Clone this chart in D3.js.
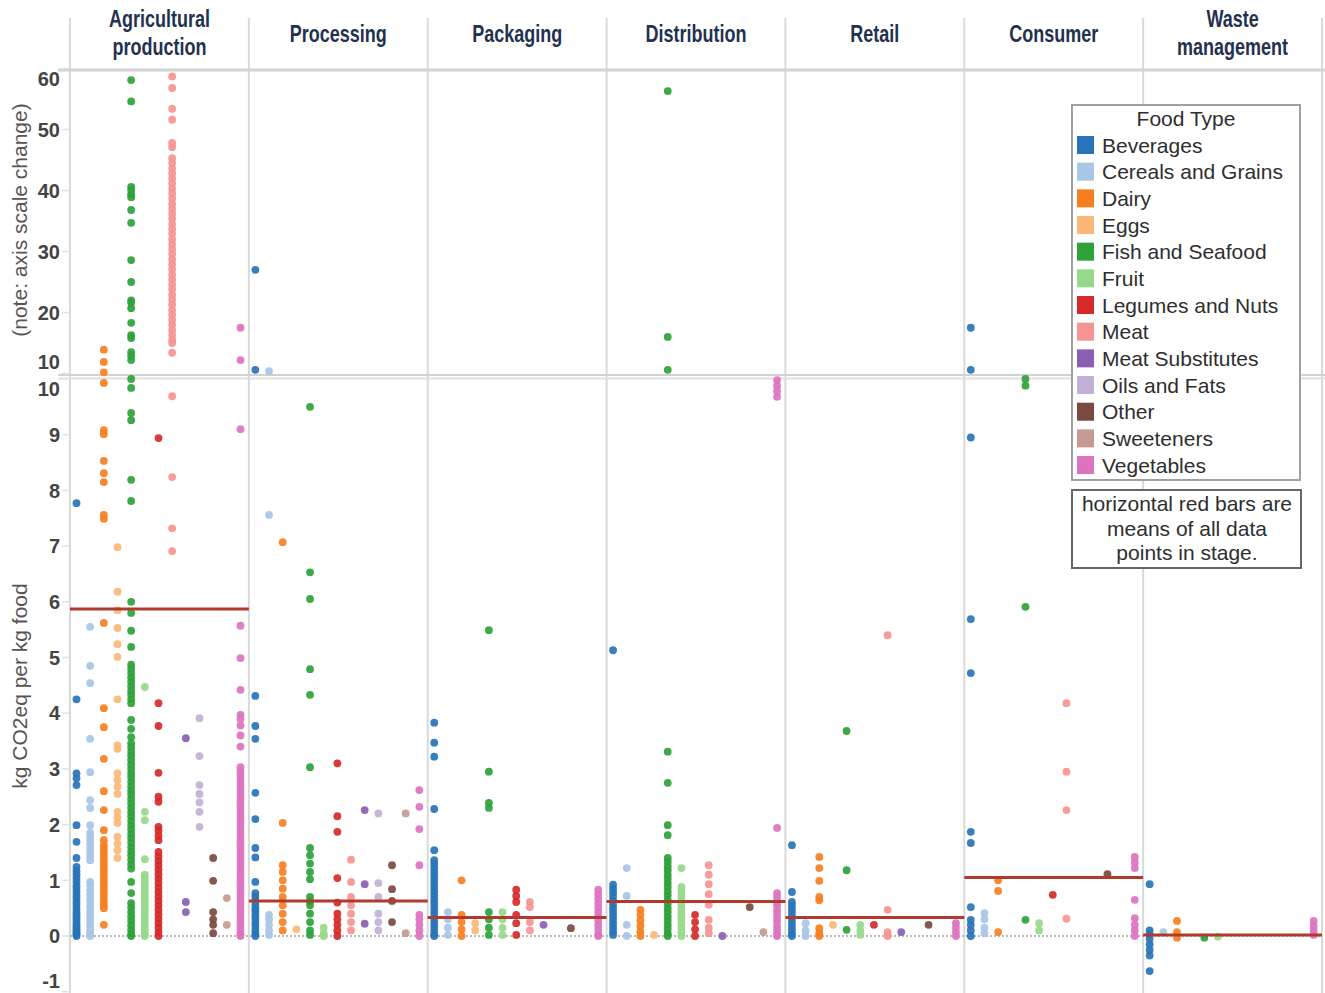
<!DOCTYPE html>
<html><head><meta charset="utf-8">
<script src="https://cdn.jsdelivr.net/npm/d3@7"></script>
<style>body{margin:0;background:#fff}svg{display:block}</style>
</head><body><svg id="c" width="1325" height="993"></svg>
<script>
const stages = ["Agricultural production","Processing","Packaging","Distribution","Retail","Consumer","Waste management"];
const stageLabelLines = [["Agricultural","production"],["Processing"],["Packaging"],["Distribution"],["Retail"],["Consumer"],["Waste","management"]];
const foods = ["Beverages","Cereals and Grains","Dairy","Eggs","Fish and Seafood","Fruit","Legumes and Nuts","Meat","Meat Substitutes","Oils and Fats","Other","Sweeteners","Vegetables"];
const foodColors = ["#2874b8","#a8c6e6","#f57f20","#fbb877","#2ea23a","#97d98a","#d62a2a","#f59593","#8a5fb3","#c3b0d6","#7b4a3f","#c49a92","#dc73bf"];
const topTicks = [10,20,30,40,50,60];
const bottomTicks = [-1,0,1,2,3,4,5,6,7,8,9,10];
const stageMeans = [5.87,0.63,0.33,0.62,0.33,1.05,0.02];

// values per food type (in foods order) for each stage, kg CO2eq per kg food
const agriculturalProduction = [
  [7.77,4.25,2.92,2.83,2.71,1.99,1.69,1.40,1.24,1.17,1.11,1.04,0.98,0.91,0.86,0.80,0.74,0.69,0.63,0.58,0.52,0.47,0.41,0.37,0.32,0.27,0.22,0.18,0.14,0.10,0.06,0.03,0.0],
  [5.55,4.85,4.54,3.54,2.94,2.44,2.30,1.99,1.85,1.78,1.72,1.65,1.58,1.50,1.43,1.36,0.97,0.90,0.82,0.75,0.68,0.61,0.53,0.46,0.39,0.32,0.25,0.18,0.11,0.05,0.0],
  [13.9,11.9,10.2,9.93,9.08,9.01,8.53,8.31,8.15,7.56,7.49,5.62,4.09,3.75,3.18,2.60,2.26,1.90,1.72,1.63,1.57,1.50,1.44,1.37,1.30,1.24,1.17,1.10,1.03,0.96,0.90,0.83,0.76,0.69,0.62,0.55,0.50,0.20],
  [6.98,6.18,5.85,5.53,5.24,5.01,4.25,3.42,3.36,2.92,2.80,2.68,2.55,2.23,2.13,2.03,1.78,1.66,1.54,1.40],
  [58.1,54.6,40.6,40.1,39.4,38.9,36.8,34.7,28.6,25.0,22.0,21.6,20.7,18.3,16.3,15.8,13.5,12.9,12.2,
   10.0,9.84,9.39,9.26,8.19,7.81,6.00,5.80,5.48,5.19,4.87,4.80,4.72,4.64,4.56,4.48,4.40,4.33,4.25,4.18,3.88,3.72,3.57,3.46,3.39,3.31,3.24,3.16,3.08,3.00,2.92,2.85,2.77,2.69,2.61,2.54,2.46,2.38,2.30,2.22,2.15,2.07,1.99,1.91,1.83,1.76,1.68,1.60,1.52,1.45,1.37,1.29,1.21,0.97,0.77,0.59,0.51,0.43,0.35,0.27,0.19,0.11,0.04,0.0],
  [4.47,2.23,2.08,1.38,1.10,1.03,0.96,0.89,0.82,0.75,0.68,0.61,0.54,0.47,0.40,0.33,0.26,0.19,0.12,0.05,0.0],
  [8.94,4.18,3.77,2.93,2.50,2.41,1.96,1.89,1.80,1.72,1.51,1.43,1.35,1.27,1.19,1.11,1.03,0.95,0.87,0.79,0.71,0.63,0.55,0.47,0.39,0.31,0.23,0.15,0.07,0.0],
  [58.7,56.8,53.4,51.6,47.8,47.1,45.3,44.5,43.6,42.8,42.0,41.2,40.3,39.5,38.7,37.8,37.0,36.2,35.4,34.5,33.7,32.9,32.0,31.2,30.4,29.6,28.7,27.9,27.1,26.2,25.4,24.6,23.8,22.9,22.1,21.3,20.4,19.6,18.8,18.0,17.1,16.3,15.5,15.0,13.4,
   9.69,8.24,7.32,6.91],
  [3.55,0.61,0.43],
  [3.91,3.23,2.71,2.55,2.40,2.23,1.96],
  [1.40,0.99,0.43,0.30,0.20,0.05],
  [0.68,0.20],
  [17.5,12.2,9.10,5.57,4.99,4.42,3.97,3.90,3.78,3.60,3.40,3.03,2.96,2.89,2.82,2.75,2.68,2.61,2.54,2.47,2.40,2.33,2.26,2.19,2.12,2.05,1.98,1.91,1.84,1.77,1.70,1.63,1.56,1.49,1.42,1.35,1.28,1.21,1.14,1.07,1.00,0.93,0.86,0.79,0.72,0.65,0.58,0.51,0.44,0.37,0.30,0.23,0.16,0.09,0.03,0.0]
];
const processing = [
  [27.0,10.6,4.31,3.77,3.54,2.57,2.10,1.58,1.41,0.97,0.77,0.71,0.64,0.57,0.50,0.44,0.37,0.31,0.24,0.18,0.11,0.05,0.0],
  [10.4,7.56,0.38,0.30,0.20,0.10,0.02],
  [7.07,2.03,1.27,1.15,1.00,0.85,0.70,0.55,0.40,0.25,0.10],
  [0.12],
  [9.50,6.53,6.05,4.79,4.33,3.03,1.58,1.45,1.30,1.15,1.02,0.70,0.62,0.55,0.40,0.25,0.10,0.02],
  [0.15,0.05,0.0],
  [3.10,2.15,1.87,1.04,0.60,0.40,0.30,0.20,0.10,0.0],
  [1.37,0.97,0.70,0.55,0.40,0.25,0.10],
  [2.26,0.93,0.22],
  [2.20,0.95,0.70,0.40,0.25,0.10],
  [1.27,0.84,0.63,0.25],
  [2.20,0.05],
  [2.62,2.32,1.92,1.27,0.38,0.30,0.20,0.10,0.0]
];
const packaging = [
  [3.83,3.47,3.22,2.28,1.54,1.36,1.29,1.22,1.15,1.08,1.01,0.94,0.87,0.80,0.73,0.66,0.59,0.52,0.45,0.38,0.31,0.24,0.17,0.10,0.03,0.0],
  [0.43,0.30,0.15,0.02],
  [1.00,0.38,0.25,0.12,0.0],
  [0.23,0.10],
  [5.49,2.95,2.39,2.30,0.43,0.30,0.15,0.02],
  [0.43,0.30,0.15,0.02],
  [0.83,0.72,0.61,0.38,0.23,0.02],
  [0.61,0.52,0.25,0.10],
  [0.20],
  [],
  [0.14],
  [],
  [0.83,0.75,0.67,0.59,0.51,0.43,0.35,0.27,0.19,0.11,0.03,0.0]
];
const distribution = [
  [5.13,0.92,0.85,0.78,0.71,0.64,0.57,0.50,0.43,0.36,0.29,0.22,0.15,0.08,0.02],
  [1.22,0.72,0.20,0.0],
  [0.47,0.38,0.28,0.18,0.08,0.0],
  [0.02],
  [56.3,16.0,10.6,3.31,2.75,1.99,1.81,1.40,1.33,1.25,1.18,1.10,1.03,0.95,0.88,0.80,0.73,0.65,0.58,0.50,0.43,0.35,0.28,0.20,0.13,0.05,0.0],
  [1.22,0.88,0.80,0.72,0.64,0.56,0.48,0.40,0.32,0.24,0.16,0.08,0.0],
  [0.38,0.25,0.12,0.0],
  [1.27,1.10,0.93,0.75,0.56,0.29,0.15,0.05],
  [0.0],
  [],
  [0.52],
  [0.07],
  [9.98,9.88,9.78,9.68,1.94,0.77,0.70,0.62,0.55,0.47,0.40,0.32,0.25,0.17,0.10,0.03,0.0]
];
const retail = [
  [1.63,0.79,0.61,0.54,0.47,0.40,0.33,0.26,0.19,0.12,0.05,0.0],
  [0.23,0.10,0.0],
  [1.42,1.22,0.99,0.70,0.64,0.14,0.05,0.0],
  [0.20],
  [3.68,1.18,0.11],
  [0.20,0.10,0.02],
  [0.20],
  [5.40,0.47,0.07,0.0],
  [0.07],
  [],
  [0.20],
  [],
  [0.23,0.15,0.07,0.0]
];
const consumer = [
  [17.5,10.6,8.95,5.69,4.72,1.87,1.67,0.52,0.29,0.20,0.10,0.0],
  [0.41,0.30,0.15,0.05],
  [1.00,0.81,0.07],
  [],
  [10.0,9.88,5.91,0.29],
  [0.23,0.10],
  [0.74],
  [4.18,2.95,2.26,0.31],
  [],
  [],
  [1.11],
  [],
  [1.42,1.32,1.22,0.65,0.32,0.20,0.10,0.0]
];
const wasteManagement = [
  [0.93,0.10,0.03,-0.05,-0.15,-0.25,-0.35,-0.63],
  [0.07],
  [0.27,0.07,-0.03],
  [],
  [-0.03],
  [-0.01],
  [],[],[],[],[],[],
  [0.27,0.18,0.10,0.02]
];
const stageData = [agriculturalProduction,processing,packaging,distribution,retail,consumer,wasteManagement];

const svg = d3.select("#c");
const x = d3.scaleBand().domain(stages).range([70,1322]);
const xf = d3.scalePoint().domain(foods).range([6.5,170.5]);
const yTop = d3.scaleLinear().domain([10,60]).range([373.5,68.5]);
const yBot = d3.scaleLinear().domain([-1,10]).range([991.7,379]);
const color = d3.scaleOrdinal().domain(foods).range(foodColors);
const SPLIT = 10.03;

const grid = "#d9d9d9";
const bounds = stages.map(s => x(s)).concat([x.range()[1]]);
svg.append("g").selectAll("line").data(bounds).join("line")
  .attr("x1", d => d).attr("x2", d => d).attr("y1", 18).attr("y2", 993)
  .attr("stroke", grid).attr("stroke-width", 2);
svg.append("line").attr("x1",58).attr("x2",1325).attr("y1",70).attr("y2",70).attr("stroke","#d2d2d2").attr("stroke-width",3);
svg.append("line").attr("x1",58).attr("x2",1325).attr("y1",375).attr("y2",375).attr("stroke","#d2d2d2").attr("stroke-width",2);
svg.append("line").attr("x1",58).attr("x2",1325).attr("y1",378.5).attr("y2",378.5).attr("stroke","#e0e0e0").attr("stroke-width",2);

svg.append("line").attr("x1",70).attr("x2",1322).attr("y1",yBot(0)).attr("y2",yBot(0))
  .attr("stroke","#b8b8b8").attr("stroke-width",2).attr("stroke-dasharray","2,2");

const tickFont = "'Liberation Sans', Arial, sans-serif";
function axisLabels(ticks, scale, lo, hi, offLo, offHi){
  const g = svg.append("g");
  g.selectAll("line").data(ticks).join("line")
    .attr("x1",62).attr("x2",70).attr("y1",d=>scale(d)).attr("y2",d=>scale(d))
    .attr("stroke","#e2e2e2").attr("stroke-width",1.5);
  g.selectAll("text").data(ticks).join("text")
    .attr("x",60).attr("y",d=>scale(d) + (d===lo?offLo:(d===hi?offHi:0)))
    .attr("dy","0.36em").attr("text-anchor","end")
    .attr("font-family",tickFont).attr("font-weight","bold").attr("font-size",20)
    .attr("fill","#444").text(d=>d);
}
axisLabels(topTicks, yTop, 10, 60, -11.5, 10.5);
axisLabels(bottomTicks, yBot, -1, 10, -10.7, 10);

svg.append("text").attr("transform","translate(27,686) rotate(-90)").attr("text-anchor","middle")
  .attr("font-family",tickFont).attr("font-size",21).attr("fill","#555").text("kg CO2eq per kg food");
svg.append("text").attr("transform","translate(27,220) rotate(-90)").attr("text-anchor","middle")
  .attr("font-family",tickFont).attr("font-size",21).attr("fill","#555").text("(note: axis scale change)");

const hdr = svg.append("g").selectAll("g").data(stages).join("g")
  .attr("transform", d => `translate(${x(d)+x.bandwidth()/2},0) scale(0.75,1)`);
hdr.each(function(d,i){
  const lines = stageLabelLines[i];
  const ys = lines.length === 2 ? [27,55] : [42];
  d3.select(this).selectAll("text").data(lines).join("text")
    .attr("x",0).attr("y",(l,j)=>ys[j]).attr("text-anchor","middle")
    .attr("font-family",tickFont).attr("font-weight","bold").attr("font-size",24)
    .attr("fill","#22314f").text(l=>l);
});

const pts = [];
stageData.forEach((arr, si) => {
  arr.forEach((vals, fi) => {
    vals.forEach(v => pts.push({stage: stages[si], food: foods[fi], v}));
  });
});
svg.append("g").selectAll("circle").data(pts).join("circle")
  .attr("cx", d => x(d.stage) + xf(d.food))
  .attr("cy", d => d.v > SPLIT ? yTop(d.v) : yBot(d.v))
  .attr("r", 3.9)
  .attr("fill", d => color(d.food))
  .attr("fill-opacity", 0.92);

svg.append("g").selectAll("line").data(stageMeans).join("line")
  .attr("x1",(d,i)=>x(stages[i])).attr("x2",(d,i)=>x(stages[i])+x.bandwidth())
  .attr("y1",d=>yBot(d)).attr("y2",d=>yBot(d))
  .attr("stroke","#b03a2e").attr("stroke-width",3);

const lg = svg.append("g");
lg.append("rect").attr("x",1072).attr("y",105).attr("width",228).attr("height",375)
  .attr("fill","#fff").attr("stroke","#a0a0a0").attr("stroke-width",2);
lg.append("text").attr("x",1186).attr("y",126).attr("text-anchor","middle")
  .attr("font-family",tickFont).attr("font-size",21).attr("fill","#2e2e2e").text("Food Type");
const li = lg.selectAll("g.item").data(foods).join("g").attr("class","item")
  .attr("transform",(d,i)=>`translate(0,${145 + i*26.67})`);
li.append("rect").attr("x",1077).attr("y",-9).attr("width",17).attr("height",18).attr("fill",d=>color(d));
li.append("text").attr("x",1102).attr("y",7.5).attr("font-family",tickFont).attr("font-size",21)
  .attr("fill","#2e2e2e").text(d=>d);

const nb = svg.append("g");
nb.append("rect").attr("x",1072).attr("y",490).attr("width",229).attr("height",78)
  .attr("fill","#fff").attr("stroke","#666").attr("stroke-width",2);
const noteLines = ["horizontal red bars are","means of all data","points in stage."];
nb.selectAll("text").data(noteLines).join("text")
  .attr("x",1187).attr("y",(d,i)=>511 + i*24.5).attr("text-anchor","middle")
  .attr("font-family",tickFont).attr("font-size",21).attr("fill","#2e2e2e").text(d=>d);
</script></body></html>
